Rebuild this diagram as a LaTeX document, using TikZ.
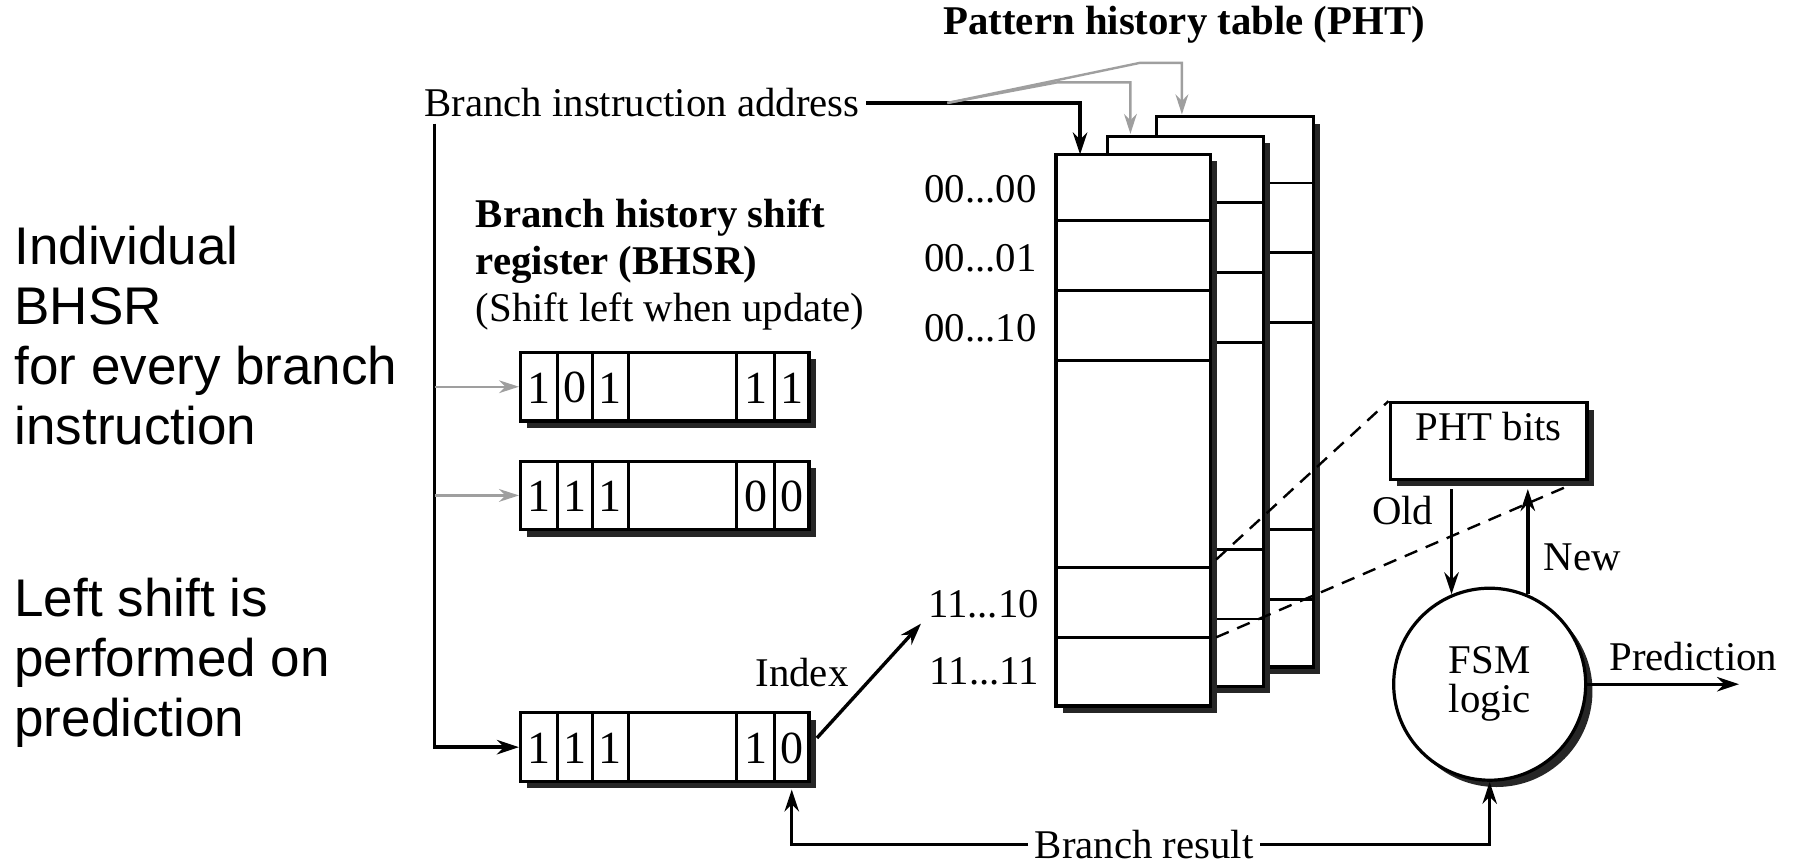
\documentclass[tikz,border=0pt]{standalone}
\usepackage{fontspec}
\setmainfont{Liberation Serif}
\newfontfamily\sansfam{Liberation Sans}
\usetikzlibrary{arrows.meta,shadows,fit,calc}
\begin{document}
\begin{tikzpicture}[x=0.28603pt, y=-0.28603pt,
  lbl/.style={font=\fontsize{10.2}{12}\selectfont, inner sep=1.5pt},
  blbl/.style={font=\bfseries\fontsize{10.2}{12}\selectfont, inner sep=1.5pt},
  sidetxt/.style={font=\sansfam\fontsize{13.25}{15}\selectfont, align=left, anchor=west, inner sep=0pt},
  shbox/.style={draw, fill=white, line width=0.8pt, inner sep=0pt,
     drop shadow={shadow xshift=1.7pt, shadow yshift=-1.7pt, opacity=1, fill=black!85}},
  arr/.style={line width=0.85pt, -{Stealth[length=5.5pt,width=3.6pt]}},
  garr/.style={draw=gray!75, line width=0.6pt, -{Stealth[length=5pt,width=3.2pt]}},
  dline/.style={line width=0.6pt, dash pattern=on 3.4pt off 2.3pt},
  rowline/.style={line width=0.7pt},
  digit/.style={font=\fontsize{11.5}{12}\selectfont, inner sep=0pt}]
\useasboundingbox (0,0) rectangle (1568,756);

% left explanatory text
\node[sidetxt] (note1) at (12,293.5) {Individual\\BHSR\\for every branch\\instruction};
\node[sidetxt] (note2) at (12,579.5) {Left shift is\\performed on\\prediction};

% titles and labels
\node[blbl] (phttitle) at (1035,22) {Pattern history table (PHT)};
\node[lbl] (bia) at (561,90) {Branch instruction address};
\node[lbl, align=left, anchor=west, font=\fontsize{10.2}{11.7}\selectfont] (bhsrlbl) at (410,231)
  {\textbf{Branch history shift}\\\textbf{register (BHSR)}\\(Shift left when update)};

% pattern history tables (back to front)
\node[shbox, fit={(1011,102) (1148,583)}] (t3) {};
\foreach \yy in {160,221,282,463,524} \draw[rowline] (1011,\yy) -- (1148,\yy);
\node[shbox, fit={(968,119) (1104,600)}] (t2) {};
\foreach \yy in {177,238,299,480,541} \draw[rowline] (968,\yy) -- (1104,\yy);
\node[shbox, fit={(923,135) (1058,617)}] (t1) {};
\foreach \yy in {193,254,315,496,557} \draw[rowline] (923,\yy) -- (1058,\yy);

% row labels
\node[lbl, anchor=east] (l0) at (912,165) {00...00};
\node[lbl, anchor=east] (l1) at (912,226) {00...01};
\node[lbl, anchor=east] (l2) at (912,287) {00...10};
\node[lbl, anchor=east] (l3) at (914,528) {11...10};
\node[lbl, anchor=east] (l4) at (914,587) {11...11};

% shift registers
\foreach \n/\t/\a/\b/\c/\d/\e in {r1/308/1/0/1/1/1, r2/403/1/1/1/0/0, r3/623/1/1/1/1/0}{
  \node[shbox, fit={(455,\t) (707,\t+60)}] (\n) {};
  \foreach \xx in {487,518,549,644,677} \draw[rowline] (\xx,\t) -- (\xx,\t+60);
  \node[digit] at (471,\t+31) {\a};
  \node[digit] at (502.5,\t+31) {\b};
  \node[digit] at (533.5,\t+31) {\c};
  \node[digit] at (660.5,\t+31) {\d};
  \node[digit] at (692,\t+31) {\e};
}

% PHT bits and FSM
\node[shbox, fit={(1215,352) (1387,419)}, font=\fontsize{10.2}{12}\selectfont] (pb) {PHT bits};
\node[shbox, circle, minimum size=48pt, align=center, font=\fontsize{10.2}{9.8}\selectfont,
  drop shadow={shadow xshift=1.2pt, shadow yshift=-1.2pt, opacity=1, fill=black!85}] (fsm) at (1302,598) {FSM\\logic};

\node[lbl] (old) at (1226,446) {Old};
\node[lbl] (new) at (1383,487) {New};
\node[lbl] (pred) at (1480,574) {Prediction};
\node[lbl] (idx) at (701,588) {Index};
\node[lbl] (br) at (1000,738) {Branch result};

% coordinates
\coordinate (split) at (828,90);
\coordinate (in1) at (944,135);
\coordinate (g2e) at (988,117);
\coordinate (g3e) at (1033,100);
\coordinate (vtop) at (380,108);
\coordinate (g1) at (380,338);
\coordinate (g2) at (380,433);
\coordinate (ixs) at (714,645);
\coordinate (ixe) at (805,545);
\coordinate (r3b) at (692,690);
\coordinate (pbs) at ($(pb.south)+(0,7)$);
\coordinate (pend) at (1520,598);
\coordinate (d1) at (1063,489);
\coordinate (d2) at (1063,557);
\coordinate (d3) at (1370,425);

% connectors
\draw[arr] (bia.east) -| (in1);
\draw[garr] (split) -- (924,72) -- (988,72) -- (g2e);
\draw[garr] (split) -- (996,55) -- (1033,55) -- (g3e);
\draw[arr] (vtop) |- (r3.west);
\draw[garr] (g1) -- (r1.west);
\draw[garr] (g2) -- (r2.west);
\draw[arr] (ixs) -- (ixe);
\draw[arr] (br.west) -| (r3b);
\draw[arr] (br.east) -| (fsm.south);
\draw[arr] (fsm.east) -- (pend);
\draw[arr] (pbs -| fsm.113) -- (fsm.113);
\draw[arr] (fsm.67) -- (pbs -| fsm.67);
\draw[dline] (d1) -- (pb.north west);
\draw[dline] (d2) -- (d3);
\end{tikzpicture}
\end{document}
